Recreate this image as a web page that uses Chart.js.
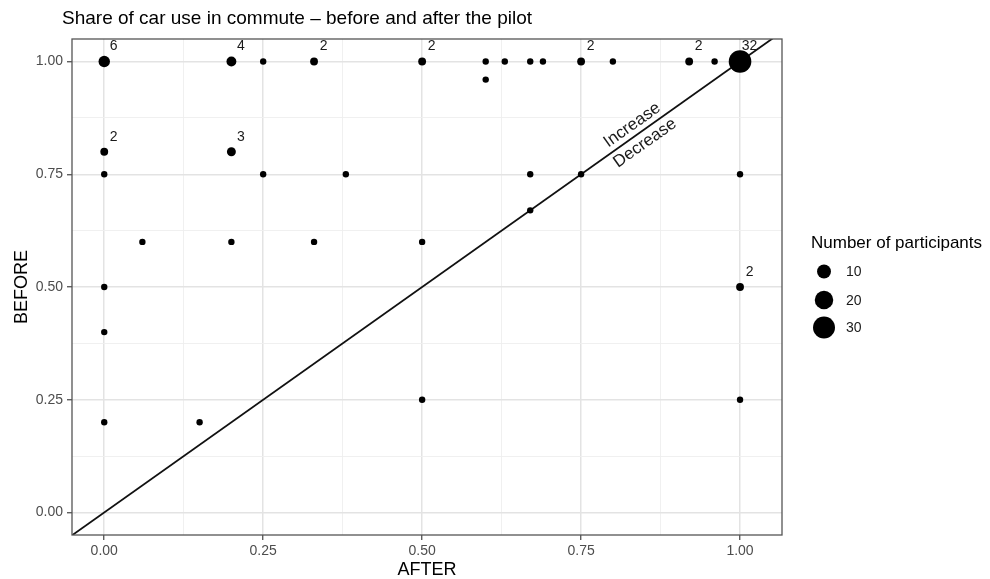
<!DOCTYPE html>
<html>
<head>
<meta charset="utf-8">
<script src="https://cdn.jsdelivr.net/npm/chart.js@4.4.1/dist/chart.umd.min.js"></script>
<style>
  html, body { margin: 0; padding: 0; background: #fff; }
  #wrap { width: 990px; height: 579px; }
</style>
</head>
<body>
<div id="wrap"><canvas id="chart" width="990" height="579"></canvas></div>
<script>
// share of car use: AFTER (x) vs BEFORE (y), with number of participants per point
const afterShare = [0, 0.2, 0.25, 0.33, 0.5, 0.6, 0.63, 0.67, 0.69, 0.75, 0.8, 0.92, 0.96, 1.0,
  0.6, 0, 0.2, 0, 0.25, 0.38, 0.67, 0.75, 1.0, 0.67, 0.06, 0.2, 0.33, 0.5,
  0, 1.0, 0, 0.5, 1.0, 0, 0.15];
const beforeShare = [1, 1, 1, 1, 1, 1, 1, 1, 1, 1, 1, 1, 1, 1,
  0.96, 0.8, 0.8, 0.75, 0.75, 0.75, 0.75, 0.75, 0.75, 0.67, 0.6, 0.6, 0.6, 0.6,
  0.5, 0.5, 0.4, 0.25, 0.25, 0.2, 0.2];
const participants = [6, 4, 1, 2, 2, 1, 1, 1, 1, 2, 1, 2, 1, 32,
  1, 2, 3, 1, 1, 1, 1, 1, 1, 1, 1, 1, 1, 1,
  1, 2, 1, 1, 1, 1, 1];

const legendSizes = [10, 20, 30];
const majorTicks = [0, 0.25, 0.5, 0.75, 1];
const gridTicks = [0, 0.125, 0.25, 0.375, 0.5, 0.625, 0.75, 0.875, 1];

const titleText = "Share of car use in commute \u2013 before and after the pilot";
const xTitle = "AFTER";
const yTitle = "BEFORE";
const legendTitle = "Number of participants";

const FONT = "'Liberation Sans', Arial, Helvetica, sans-serif";

// ggplot-like area scale: radius linear in sqrt(n)
function radiusFor(n) {
  return 3.2 + 8.1 * (Math.sqrt(n) - 1) / (Math.sqrt(32) - 1);
}

function isMajor(v) {
  return majorTicks.some((m) => Math.abs(m - v) < 1e-6);
}

const points = afterShare.map((x, i) => ({ x: x, y: beforeShare[i] }));
const radii = participants.map(radiusFor);

const gridOpts = {
  color: (c) => (c.tick && isMajor(c.tick.value) ? "#e3e3e3" : "#eeeeee"),
  lineWidth: (c) => (c.tick && isMajor(c.tick.value) ? 1.5 : 0.9),
  tickColor: (c) => (c.tick && isMajor(c.tick.value) ? "#444" : "rgba(0,0,0,0)"),
  tickWidth: 1.2,
  tickLength: 5,
  drawTicks: true,
};

const tickFont = { family: FONT, size: 14 };

const extras = {
  id: "extras",
  afterDatasetsDraw(chart) {
    const { ctx, chartArea: a, scales } = chart;
    const xs = scales.x, ys = scales.y;
    ctx.save();

    // panel border
    ctx.strokeStyle = "#555";
    ctx.lineWidth = 1.3;
    ctx.strokeRect(a.left, a.top, a.right - a.left, a.bottom - a.top);

    // counts next to bigger points
    ctx.fillStyle = "#1a1a1a";
    ctx.font = `14px ${FONT}`;
    ctx.textAlign = "center";
    ctx.textBaseline = "middle";
    participants.forEach((n, i) => {
      if (n < 2) return;
      const px = xs.getPixelForValue(afterShare[i]);
      const py = ys.getPixelForValue(beforeShare[i]);
      ctx.fillText(String(n), px + 9.5, py - 15);
    });

    // Increase / Decrease along the diagonal
    const x0 = xs.getPixelForValue(0), y0 = ys.getPixelForValue(0);
    const x1 = xs.getPixelForValue(1), y1 = ys.getPixelForValue(1);
    const ang = Math.atan2(y1 - y0, x1 - x0);
    ctx.save();
    ctx.translate(xs.getPixelForValue(0.84), ys.getPixelForValue(0.84));
    ctx.rotate(ang);
    ctx.font = `17px ${FONT}`;
    ctx.fillText("Increase", 0, -10.5);
    ctx.fillText("Decrease", 0, 11.5);
    ctx.restore();

    // title
    ctx.fillStyle = "#000";
    ctx.textAlign = "left";
    ctx.textBaseline = "alphabetic";
    ctx.font = `19px ${FONT}`;
    ctx.fillText(titleText, 62, 24);

    // axis titles
    ctx.textAlign = "center";
    ctx.font = `18px ${FONT}`;
    ctx.fillText(xTitle, (a.left + a.right) / 2, 575);
    ctx.save();
    ctx.translate(27, (a.top + a.bottom) / 2);
    ctx.rotate(-Math.PI / 2);
    ctx.fillText(yTitle, 0, 0);
    ctx.restore();

    // size legend
    ctx.textAlign = "left";
    ctx.textBaseline = "middle";
    ctx.font = `17px ${FONT}`;
    ctx.fillText(legendTitle, 811, 243);
    const rowsY = [271.5, 300, 327.5];
    ctx.font = `14px ${FONT}`;
    legendSizes.forEach((n, i) => {
      ctx.fillStyle = "#000";
      ctx.beginPath();
      ctx.arc(824, rowsY[i], radiusFor(n), 0, Math.PI * 2);
      ctx.fill();
      ctx.fillStyle = "#1a1a1a";
      ctx.fillText(String(n), 846, rowsY[i] + 1);
    });

    ctx.restore();
  },
};

new Chart(document.getElementById("chart"), {
  type: "scatter",
  data: {
    datasets: [
      {
        // y = x reference line
        type: "line",
        data: [{ x: -0.2, y: -0.2 }, { x: 1.3, y: 1.3 }],
        borderColor: "#111",
        borderWidth: 1.8,
        pointRadius: 0,
        fill: false,
        order: 2,
      },
      {
        data: points,
        backgroundColor: "#000",
        borderWidth: 0,
        pointRadius: radii,
        pointHoverRadius: radii,
        order: 1,
      },
    ],
  },
  options: {
    responsive: false,
    animation: false,
    devicePixelRatio: 1,
    layout: { padding: { left: 0, top: 39, right: 208, bottom: 0 } },
    plugins: { legend: { display: false }, tooltip: { enabled: false }, title: { display: false } },
    scales: {
      x: {
        type: "linear",
        min: -0.0507,
        max: 1.066,
        afterBuildTicks: (s) => { s.ticks = gridTicks.map((v) => ({ value: v })); },
        afterFit: (s) => { s.height = 44; },
        ticks: {
          autoSkip: false,
          maxRotation: 0,
          padding: 3,
          color: "#4d4d4d",
          font: tickFont,
          callback: (v) => (isMajor(v) ? Number(v).toFixed(2) : ""),
        },
        grid: gridOpts,
        border: { display: false },
      },
      y: {
        type: "linear",
        min: -0.05,
        max: 1.05,
        afterBuildTicks: (s) => { s.ticks = gridTicks.map((v) => ({ value: v })); },
        afterFit: (s) => { s.width = 72; },
        ticks: {
          autoSkip: false,
          padding: 4,
          color: "#4d4d4d",
          font: tickFont,
          callback: (v) => (isMajor(v) ? Number(v).toFixed(2) : ""),
        },
        grid: gridOpts,
        border: { display: false },
      },
    },
  },
  plugins: [extras],
});
</script>
</body>
</html>
